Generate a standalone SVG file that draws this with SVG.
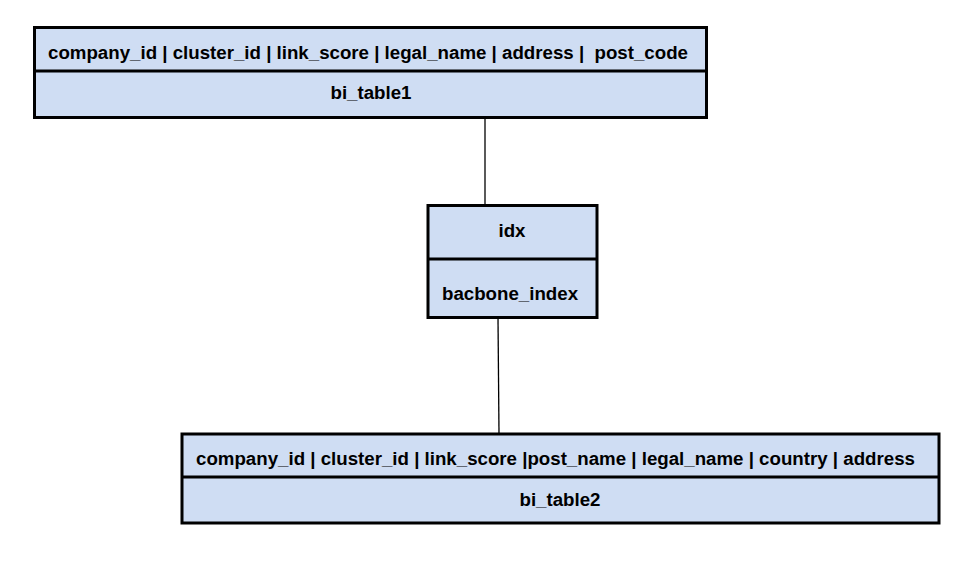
<svg xmlns="http://www.w3.org/2000/svg" width="966" height="565" viewBox="0 0 966 565">
<style>
.box{fill:#cfddf3;stroke:#000;stroke-width:3}
.div{stroke:#000;stroke-width:3}
.t{font-family:"Liberation Sans",Arial,sans-serif;font-weight:bold;font-size:18.7px;fill:#000}
.c{text-anchor:middle}
.conn{stroke:#000;stroke-width:1.3;fill:none}
</style>
<rect width="966" height="565" fill="#fff"/>
<g id="connectors">
<line class="conn" x1="485" y1="117" x2="485" y2="205"/>
<line class="conn" x1="498" y1="318" x2="499" y2="434"/>
</g>
<g id="bi_table1">
<rect class="box" x="34.5" y="27.5" width="672" height="90"/>
<line class="div" x1="34.5" y1="71" x2="706.5" y2="71"/>
<text class="t" x="48" y="59" xml:space="preserve">company_id | cluster_id | link_score | legal_name | address |  post_code</text>
<text class="t c" x="371" y="99">bi_table1</text>
</g>
<g id="idx">
<rect class="box" x="428" y="205.5" width="169" height="112"/>
<line class="div" x1="428" y1="259" x2="597" y2="259"/>
<text class="t c" x="512" y="237">idx</text>
<text class="t" x="442" y="300">bacbone_index</text>
</g>
<g id="bi_table2">
<rect class="box" x="182" y="434" width="757" height="89"/>
<line class="div" x1="182" y1="477" x2="939" y2="477"/>
<text class="t" x="196" y="465">company_id | cluster_id | link_score |post_name | legal_name | country | address</text>
<text class="t c" x="560" y="506">bi_table2</text>
</g>
</svg>
